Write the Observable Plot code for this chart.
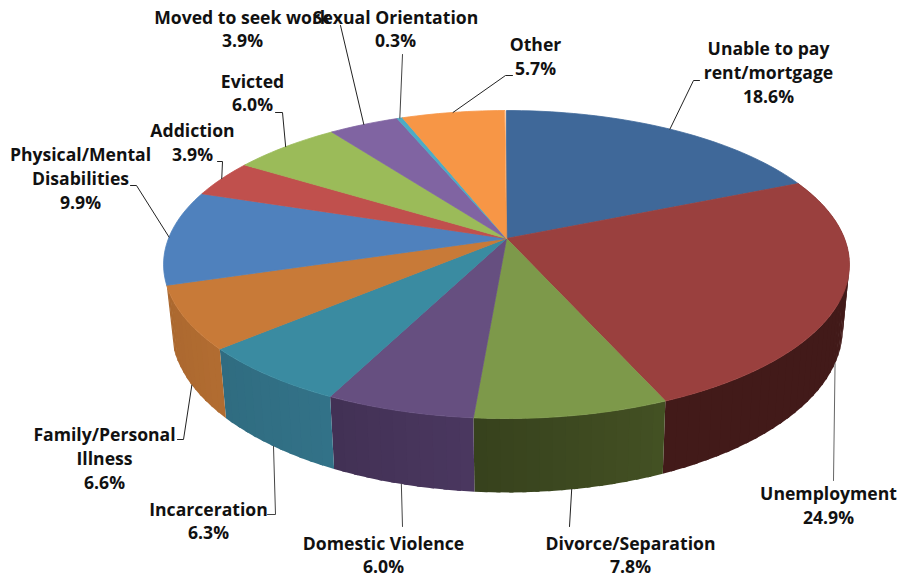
<!DOCTYPE html>
<html><head><meta charset="utf-8">
<style>html,body{margin:0;padding:0;background:#fff}svg{display:block}</style>
<script src="https://cdn.jsdelivr.net/npm/d3@7"></script>
<script src="https://cdn.jsdelivr.net/npm/@observablehq/plot@0.6"></script>
</head><body><div id="chart"></div>
<script>
const categories = ["Unable to pay\nrent/mortgage","Unemployment","Divorce/Separation","Domestic Violence","Incarceration","Family/Personal\nIllness","Physical/Mental\nDisabilities","Addiction","Evicted","Moved to seek work","Sexual Orientation","Other"];
const shares = [18.6,24.9,7.8,6.0,6.3,6.6,9.9,3.9,6.0,3.9,0.3,5.7];
const topColors = ["#3f6899","#9a403e","#7d994a","#664f80","#3a8ba1","#c87a38","#4f81bd","#c0504d","#9bbb59","#8064a2","#4bacc6","#f79646"];
const sideColors = ["#2a4565","#421a19","#3d4920","#46345a","#316f84","#ae6a30","#4f81bd","#803533","#677d3b","#55436c","#327284","#a4642f"];
const sideFade = [0,0,0.55,0.3,0.15,0.1,0,0,0,0,0,0];
const sideVisible = [false,true,true,true,true,true,false,false,false,false,false,false];
const leaderColors = ["#222","#666","#222","#444","#444","#222","#222","#222","#222","#222","#444","#222"];

// Text anchor of each label, then the elbow of its leader line
const labelX = [768,828,630,383,208,104,80,192,252,242,395,535];
const labelY = [71,504,553.5,553.5,519.5,457,177,141,91.5,27.5,27.5,55];
const leaderVia = [[[693,80],[699,80]],[[833,480]],[[569,526]],[[402,526]],[[275,514],[267,514]],[[183,439],[177,439]],[[136,185],[130,185]],[[222,161],[217,161]],[[282,112],[275,112]],[[340,25]],[[402,54]],[[505,75],[512,75]]];
const leaderFromBase = [false,true,true,true,true,true,false,false,false,false,false,false];

// Perspective views of the upper and lower faces of the disc
const upper = {cx:506,cy:238,rx:338,ry:149.6,k:0.169};
const lower = {cx:506.5,cy:300,rx:331,ry:159.3,k:0.17};
const project = (v,deg) => {
  const a = deg*Math.PI/180, X = Math.sin(a), Y = -Math.cos(a), w = 1 - v.k*Y;
  return {x:v.cx + v.rx*X/w, y:v.cy + v.ry*Y/w};
};
let run = 0;
const slices = shares.map((s,i) => {
  const start = run*3.6; run += s;
  return {i, name:categories[i], share:s, start, end:run*3.6, mid:(start+run*3.6)/2};
});
const samples = (s,step) => {
  const n = Math.max(2,Math.ceil((s.end-s.start)/step));
  return d3.range(n+1).map(j => s.start+(s.end-s.start)*j/n);
};

const topFaces = slices.flatMap(s => [
  {x:upper.cx,y:upper.cy,id:s.i,c:topColors[s.i]},
  ...samples(s,1.5).map(d => ({...project(upper,d),id:s.i,c:topColors[s.i]}))
]);
const sideFaces = slices.filter(s => sideVisible[s.i]).flatMap(s => {
  const p = samples(s,2), out = [];
  p.slice(0,-1).forEach((d,j) => {
    const e = j === p.length-2 ? p[j+1] : p[j+1]+0.6;
    const u = j/(p.length-2);
    const c = d3.color(sideColors[s.i]).brighter(sideFade[s.i]*(0.5-u)).formatHex();
    const id = s.i+"-"+j;
    [project(upper,d),project(upper,e),project(lower,e),project(lower,d)].forEach(q => out.push({...q,id,c}));
  });
  return out;
});
const leaders = slices.flatMap(s => {
  const a = project(leaderFromBase[s.i]?lower:upper,s.mid);
  return [[a.x,a.y],...leaderVia[s.i]].map(([x,y]) => ({x,y,id:s.i,c:leaderColors[s.i]}));
});
const labels = slices.map(s => ({x:labelX[s.i],y:labelY[s.i],t:`${s.name}\n${s.share.toFixed(1)}%`}));

const plot = Plot.plot({
  width:897,height:577,margin:0,
  x:{domain:[0,897],axis:null},
  y:{domain:[577,0],axis:null},
  color:{type:"identity"},
  marks:[
    Plot.line(sideFaces,{x:"x",y:"y",z:"id",fill:"c",strokeWidth:0,curve:"linear-closed"}),
    Plot.line(topFaces,{x:"x",y:"y",z:"id",fill:"c",stroke:"c",strokeWidth:0.8,curve:"linear-closed"}),
    Plot.line(leaders,{x:"x",y:"y",z:"id",stroke:"c",strokeWidth:1,curve:"linear"}),
    Plot.text(labels,{x:"x",y:"y",text:"t",fontFamily:"Open Sans",fontWeight:700,fontSize:17.6,lineHeight:1.35,fill:"#111",textAnchor:"middle"})
  ]
});
document.getElementById("chart").append(plot);
</script></body></html>
